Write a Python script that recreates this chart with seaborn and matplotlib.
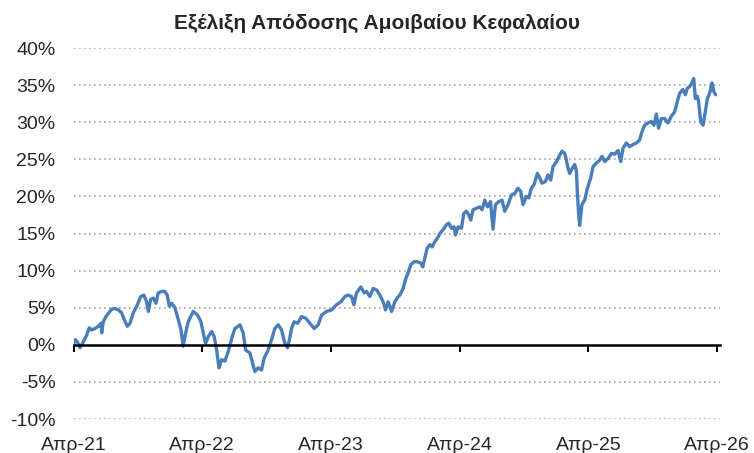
import pandas as pd
import matplotlib
matplotlib.use('Agg')
import matplotlib.pyplot as plt
import seaborn as sns
import numpy as np

# time in decimal years, return in %
years = [
    2021.250, 2021.262, 2021.280, 2021.300, 2021.326, 2021.352, 2021.373, 2021.391, 2021.417, 2021.443,
    2021.464, 2021.469, 2021.481, 2021.502, 2021.528, 2021.547, 2021.572, 2021.598, 2021.624, 2021.644,
    2021.668, 2021.689, 2021.714, 2021.741, 2021.772, 2021.797, 2021.818, 2021.831, 2021.849, 2021.870,
    2021.891, 2021.908, 2021.935, 2021.960, 2021.978, 2021.994, 2022.012, 2022.038, 2022.064, 2022.085,
    2022.102, 2022.121, 2022.141, 2022.180, 2022.214, 2022.240, 2022.258, 2022.276, 2022.297, 2022.323,
    2022.343, 2022.362, 2022.380, 2022.401, 2022.426, 2022.452, 2022.483, 2022.504, 2022.543, 2022.568,
    2022.587, 2022.620, 2022.659, 2022.685, 2022.711, 2022.731, 2022.762, 2022.789, 2022.814, 2022.840,
    2022.866, 2022.892, 2022.913, 2022.931, 2022.944, 2022.964, 2022.991, 2023.022, 2023.053, 2023.086,
    2023.120, 2023.151, 2023.177, 2023.216, 2023.255, 2023.293, 2023.327, 2023.358, 2023.384, 2023.410,
    2023.428, 2023.449, 2023.482, 2023.508, 2023.526, 2023.552, 2023.578, 2023.604, 2023.630, 2023.655,
    2023.674, 2023.694, 2023.721, 2023.746, 2023.772, 2023.785, 2023.811, 2023.829, 2023.849, 2023.870,
    2023.896, 2023.922, 2023.948, 2023.963, 2023.979, 2023.997, 2024.018, 2024.036, 2024.057, 2024.078,
    2024.096, 2024.121, 2024.148, 2024.165, 2024.186, 2024.207, 2024.217, 2024.238, 2024.264, 2024.282,
    2024.303, 2024.321, 2024.336, 2024.354, 2024.380, 2024.406, 2024.424, 2024.445, 2024.466, 2024.489,
    2024.509, 2024.528, 2024.554, 2024.579, 2024.600, 2024.626, 2024.652, 2024.678, 2024.703, 2024.724,
    2024.742, 2024.769, 2024.787, 2024.807, 2024.828, 2024.854, 2024.872, 2024.890, 2024.916, 2024.936,
    2024.957, 2024.975, 2025.002, 2025.022, 2025.045, 2025.066, 2025.079, 2025.092, 2025.105, 2025.118,
    2025.144, 2025.157, 2025.165, 2025.175, 2025.182, 2025.200, 2025.221, 2025.242, 2025.268, 2025.286,
    2025.312, 2025.338, 2025.356, 2025.377, 2025.402, 2025.429, 2025.454, 2025.480, 2025.501, 2025.519,
    2025.545, 2025.571, 2025.596, 2025.623, 2025.648, 2025.666, 2025.687, 2025.713, 2025.739, 2025.759,
    2025.778, 2025.795, 2025.817, 2025.842, 2025.868, 2025.894, 2025.920, 2025.941, 2025.959, 2025.984,
    2026.003, 2026.019, 2026.036, 2026.054, 2026.068, 2026.081, 2026.096, 2026.106, 2026.122, 2026.140,
    2026.158, 2026.174, 2026.192, 2026.210, 2026.225, 2026.238,
]
returns = [
    0.0, 0.7, 0.4, -0.4, 0.4, 1.3, 2.3, 2.0, 2.2, 2.5,
    2.9, 1.6, 3.1, 3.8, 4.4, 4.8, 4.9, 4.7, 4.3, 3.4,
    2.5, 2.9, 4.3, 5.2, 6.5, 6.7, 5.8, 4.5, 6.1, 6.3,
    5.6, 7.0, 7.2, 7.2, 6.7, 5.2, 5.6, 5.0, 3.4, 2.0,
    -0.2, 1.6, 3.1, 4.5, 4.0, 3.1, 1.6, 0.2, 1.1, 1.8,
    1.1, -0.7, -3.1, -2.0, -2.2, -0.9, 1.1, 2.2, 2.7, 1.6,
    -0.7, -1.1, -3.6, -3.1, -3.4, -1.8, -0.7, 0.7, 2.2, 2.7,
    2.0, 0.2, -0.4, 1.0, 2.2, 3.1, 2.9, 3.8, 3.6, 2.9,
    2.2, 2.7, 4.0, 4.5, 4.7, 5.4, 5.8, 6.5, 6.7, 6.5,
    5.4, 7.0, 7.8, 7.0, 7.2, 6.5, 7.6, 7.4, 6.7, 5.8,
    4.7, 5.8, 4.5, 5.8, 6.5, 6.7, 7.6, 8.8, 9.7, 10.8,
    11.2, 11.2, 11.0, 10.5, 11.7, 13.0, 13.5, 13.2, 13.9, 14.4,
    15.0, 15.5, 16.2, 16.4, 15.7, 15.9, 14.8, 15.9, 15.7, 17.7,
    18.0, 17.5, 16.8, 18.2, 18.4, 18.6, 18.2, 19.5, 18.6, 19.3,
    15.6, 18.9, 19.3, 19.5, 18.0, 18.9, 20.2, 20.4, 21.1, 20.7,
    18.9, 20.0, 19.8, 21.1, 21.6, 23.1, 22.5, 21.8, 22.0, 22.9,
    22.2, 24.0, 24.7, 25.4, 26.1, 25.8, 24.9, 23.8, 23.1, 23.6,
    24.3, 23.4, 20.2, 17.5, 16.1, 18.9, 19.5, 21.1, 22.5, 24.0,
    24.5, 24.9, 25.4, 24.7, 25.1, 25.8, 25.7, 26.2, 24.7, 26.5,
    27.2, 26.7, 27.0, 27.2, 27.6, 28.7, 29.6, 29.9, 30.1, 29.6,
    31.1, 29.2, 30.5, 30.5, 29.9, 30.8, 31.4, 32.8, 33.9, 34.4,
    33.7, 34.6, 34.8, 35.3, 35.9, 33.2, 33.5, 32.8, 30.1, 29.6,
    31.4, 33.2, 33.9, 35.3, 34.1, 33.7,
]
tick_years = [2021.25, 2022.25, 2023.25, 2024.25, 2025.25, 2026.25]
tick_labels = ['Απρ-21', 'Απρ-22', 'Απρ-23', 'Απρ-24', 'Απρ-25', 'Απρ-26']
y_ticks = list(range(-10, 41, 5))

df = pd.DataFrame({'year': years, 'ret': returns})

sns.set_style('white')
plt.rcParams['font.family'] = ['Liberation Sans', 'DejaVu Sans']

fig = plt.figure(figsize=(7.54, 4.53), dpi=100)
ax = fig.add_axes([0.0975, 0.075, 0.857, 0.819])

sns.lineplot(data=df, x='year', y='ret', ax=ax, color='#4a7ebb', linewidth=2.4)

ax.set_xlim(2021.25, 2026.27)
ax.set_ylim(-10, 40)
ax.set_yticks(y_ticks)
ax.set_yticklabels([f'{v}%' for v in y_ticks])
ax.tick_params(axis='y', length=0, pad=13, labelsize=14)
for v in y_ticks:
    if v != 0:
        ax.axhline(v, color='#a6a6a6', linestyle=(0, (1, 2)), linewidth=1.2, zorder=0)

# zero line acts as the x axis, with small ticks at each year
for s in ['top', 'right', 'left']:
    ax.spines[s].set_visible(False)
ax.spines['bottom'].set_position(('data', 0))
ax.spines['bottom'].set_color('black')
ax.spines['bottom'].set_linewidth(1.8)
ax.set_xticks(tick_years)
ax.tick_params(axis='x', bottom=True, direction='out', length=5, width=1.5,
               color='black', labelbottom=False)

# labels sit at the bottom of the plot area
secax = ax.secondary_xaxis(0.0)
secax.set_xticks(tick_years, tick_labels)
secax.tick_params(length=0, pad=13, labelsize=14)
secax.spines['bottom'].set_visible(False)

ax.set_xlabel('')
ax.set_ylabel('')
fig.text(0.5, 0.948, 'Εξέλιξη Απόδοσης Αμοιβαίου Κεφαλαίου', ha='center', va='center',
         fontsize=15, fontweight='bold')

fig.savefig('out.png', dpi=100)
